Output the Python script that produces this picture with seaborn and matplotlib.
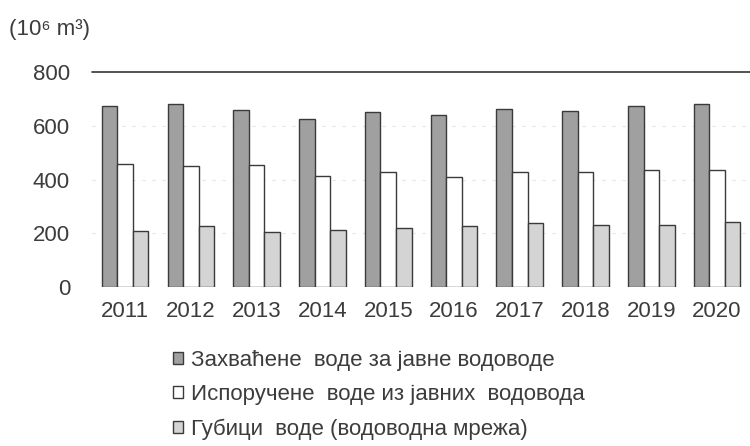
import pandas as pd
import matplotlib.pyplot as plt
import seaborn as sns

years = ['2011', '2012', '2013', '2014', '2015', '2016', '2017', '2018', '2019', '2020']
abstracted = [673, 683, 661, 626, 651, 641, 662, 656, 675, 680]
delivered = [458, 451, 454, 414, 428, 409, 428, 428, 438, 438]
losses = [210, 228, 206, 213, 221, 226, 238, 232, 231, 242]
series_names = ['Захваћене  воде за јавне водоводе',
                'Испоручене  воде из јавних  водовода',
                'Губици  воде (водоводна мрежа)']

df = pd.DataFrame({
    'year': years * 3,
    'value': abstracted + delivered + losses,
    'series': [series_names[0]] * 10 + [series_names[1]] * 10 + [series_names[2]] * 10,
})

sns.set_style('white')
plt.rcParams['font.family'] = ['Liberation Sans', 'DejaVu Sans']

fig = plt.figure(figsize=(7.5, 4.46), dpi=100)
ax = fig.add_axes([0.123, 0.356, 0.877, 0.482])

palette = ['#a0a0a0', '#ffffff', '#d4d4d4']
sns.barplot(data=df, x='year', y='value', hue='series', palette=palette,
            width=0.71, edgecolor='#3a3a3a', linewidth=1.0, ax=ax, saturation=1)

ax.set_ylim(0, 800)
ax.set_xlim(-0.5, 9.5)
ax.set_yticks([0, 200, 400, 600, 800])
for y in [200, 400, 600]:
    ax.axhline(y, color='#e6e6e6', lw=0.8, ls=(0, (3, 6)), zorder=0)
ax.axhline(800, color='#333333', lw=1.2, zorder=3, clip_on=False)
for s in ax.spines.values():
    s.set_visible(False)
ax.tick_params(axis='both', length=0, labelsize=16, colors='#3c3c3c')
ax.tick_params(axis='x', pad=10)
ax.tick_params(axis='y', pad=16)
ax.set_xlabel('')
ax.set_ylabel('')
fig.text(0.012, 0.933, '(10⁶ m³)', fontsize=16, color='#3c3c3c', va='center')

handles, labels = ax.get_legend_handles_labels()
ax.legend(handles, labels, loc='center left', bbox_to_anchor=(0.219, 1 - 395 / 446),
          bbox_transform=fig.transFigure,
          frameon=False, fontsize=16, labelcolor='#3c3c3c',
          handlelength=0.45, handleheight=0.45, handletextpad=0.35,
          labelspacing=0.6, borderaxespad=0)

fig.savefig('out.png', dpi=100)
